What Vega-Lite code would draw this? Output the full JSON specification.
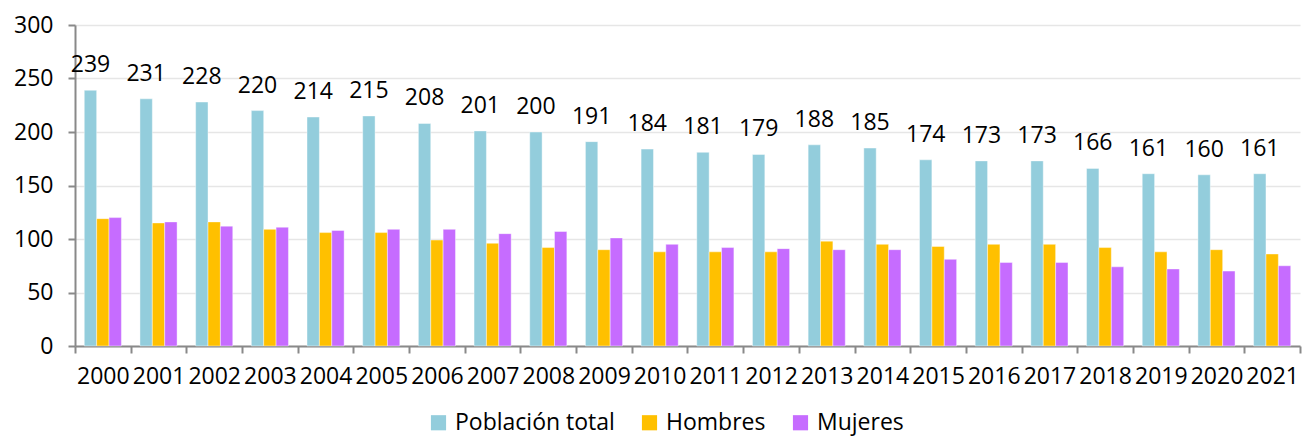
{
  "$schema": "https://vega.github.io/schema/vega-lite/v6.json",
  "width": 1225,
  "height": 321,
  "autosize": {"type": "none"},
  "padding": {"left": 75, "top": 25, "right": 2, "bottom": 93},
  "background": "white",
  "config": {
    "font": "Open Sans",
    "view": {"stroke": null},
    "axis": {"labelFont": "Open Sans", "labelFontSize": 23, "labelColor": "#000000"}
  },
  "data": {
    "values": [
      {"year": "2000", "serie": "Población total", "value": 239}, {"year": "2000", "serie": "Hombres", "value": 119}, {"year": "2000", "serie": "Mujeres", "value": 120},
      {"year": "2001", "serie": "Población total", "value": 231}, {"year": "2001", "serie": "Hombres", "value": 115}, {"year": "2001", "serie": "Mujeres", "value": 116},
      {"year": "2002", "serie": "Población total", "value": 228}, {"year": "2002", "serie": "Hombres", "value": 116}, {"year": "2002", "serie": "Mujeres", "value": 112},
      {"year": "2003", "serie": "Población total", "value": 220}, {"year": "2003", "serie": "Hombres", "value": 109}, {"year": "2003", "serie": "Mujeres", "value": 111},
      {"year": "2004", "serie": "Población total", "value": 214}, {"year": "2004", "serie": "Hombres", "value": 106}, {"year": "2004", "serie": "Mujeres", "value": 108},
      {"year": "2005", "serie": "Población total", "value": 215}, {"year": "2005", "serie": "Hombres", "value": 106}, {"year": "2005", "serie": "Mujeres", "value": 109},
      {"year": "2006", "serie": "Población total", "value": 208}, {"year": "2006", "serie": "Hombres", "value": 99}, {"year": "2006", "serie": "Mujeres", "value": 109},
      {"year": "2007", "serie": "Población total", "value": 201}, {"year": "2007", "serie": "Hombres", "value": 96}, {"year": "2007", "serie": "Mujeres", "value": 105},
      {"year": "2008", "serie": "Población total", "value": 200}, {"year": "2008", "serie": "Hombres", "value": 92}, {"year": "2008", "serie": "Mujeres", "value": 107},
      {"year": "2009", "serie": "Población total", "value": 191}, {"year": "2009", "serie": "Hombres", "value": 90}, {"year": "2009", "serie": "Mujeres", "value": 101},
      {"year": "2010", "serie": "Población total", "value": 184}, {"year": "2010", "serie": "Hombres", "value": 88}, {"year": "2010", "serie": "Mujeres", "value": 95},
      {"year": "2011", "serie": "Población total", "value": 181}, {"year": "2011", "serie": "Hombres", "value": 88}, {"year": "2011", "serie": "Mujeres", "value": 92},
      {"year": "2012", "serie": "Población total", "value": 179}, {"year": "2012", "serie": "Hombres", "value": 88}, {"year": "2012", "serie": "Mujeres", "value": 91},
      {"year": "2013", "serie": "Población total", "value": 188}, {"year": "2013", "serie": "Hombres", "value": 98}, {"year": "2013", "serie": "Mujeres", "value": 90},
      {"year": "2014", "serie": "Población total", "value": 185}, {"year": "2014", "serie": "Hombres", "value": 95}, {"year": "2014", "serie": "Mujeres", "value": 90},
      {"year": "2015", "serie": "Población total", "value": 174}, {"year": "2015", "serie": "Hombres", "value": 93}, {"year": "2015", "serie": "Mujeres", "value": 81},
      {"year": "2016", "serie": "Población total", "value": 173}, {"year": "2016", "serie": "Hombres", "value": 95}, {"year": "2016", "serie": "Mujeres", "value": 78},
      {"year": "2017", "serie": "Población total", "value": 173}, {"year": "2017", "serie": "Hombres", "value": 95}, {"year": "2017", "serie": "Mujeres", "value": 78},
      {"year": "2018", "serie": "Población total", "value": 166}, {"year": "2018", "serie": "Hombres", "value": 92}, {"year": "2018", "serie": "Mujeres", "value": 74},
      {"year": "2019", "serie": "Población total", "value": 161}, {"year": "2019", "serie": "Hombres", "value": 88}, {"year": "2019", "serie": "Mujeres", "value": 72},
      {"year": "2020", "serie": "Población total", "value": 160}, {"year": "2020", "serie": "Hombres", "value": 90}, {"year": "2020", "serie": "Mujeres", "value": 70},
      {"year": "2021", "serie": "Población total", "value": 161}, {"year": "2021", "serie": "Hombres", "value": 86}, {"year": "2021", "serie": "Mujeres", "value": 75}
    ]
  },
  "encoding": {
    "x": {
      "field": "year", "type": "nominal",
      "scale": {"paddingInner": 0, "paddingOuter": 0},
      "axis": {
        "title": null, "labelAngle": 0, "tickBand": "extent",
        "domainColor": "#898989", "domainWidth": 2,
        "tickColor": "#898989", "tickWidth": 2, "tickSize": 7,
        "labelPadding": 12, "grid": false
      }
    },
    "xOffset": {
      "field": "serie", "type": "nominal",
      "sort": ["Población total", "Hombres", "Mujeres"],
      "scale": {"paddingOuter": 0.75, "paddingInner": 0}
    },
    "y": {
      "field": "value", "type": "quantitative",
      "scale": {"domain": [0, 300], "nice": false},
      "axis": {
        "title": null, "values": [0, 50, 100, 150, 200, 250, 300],
        "domainColor": "#898989", "domainWidth": 2,
        "tickColor": "#898989", "tickWidth": 2, "tickSize": 7,
        "labelPadding": 15,
        "gridColor": "#E6E6E6", "gridWidth": 1.5
      }
    }
  },
  "layer": [
    {
      "mark": {"type": "bar", "stroke": "#ffffff", "strokeWidth": 0.6, "strokeOpacity": 0.7},
      "encoding": {
        "color": {
          "field": "serie", "type": "nominal",
          "scale": {"domain": ["Población total", "Hombres", "Mujeres"], "range": ["#93CDDC", "#FFC000", "#C66CFF"]},
          "legend": {
            "title": null, "orient": "none", "direction": "horizontal",
            "legendX": 352, "legendY": 386,
            "symbolType": "square", "symbolSize": 230, "symbolStrokeWidth": 0,
            "labelFontSize": 23, "labelFont": "Open Sans", "labelColor": "#000000",
            "columnPadding": 23, "labelOffset": 5
          }
        }
      }
    },
    {
      "transform": [{"filter": "datum.serie === 'Población total'"}],
      "mark": {"type": "text", "fontSize": 23, "font": "Open Sans", "color": "#000000", "baseline": "alphabetic", "dy": -18},
      "encoding": {"text": {"field": "value", "type": "quantitative"}}
    }
  ]
}
